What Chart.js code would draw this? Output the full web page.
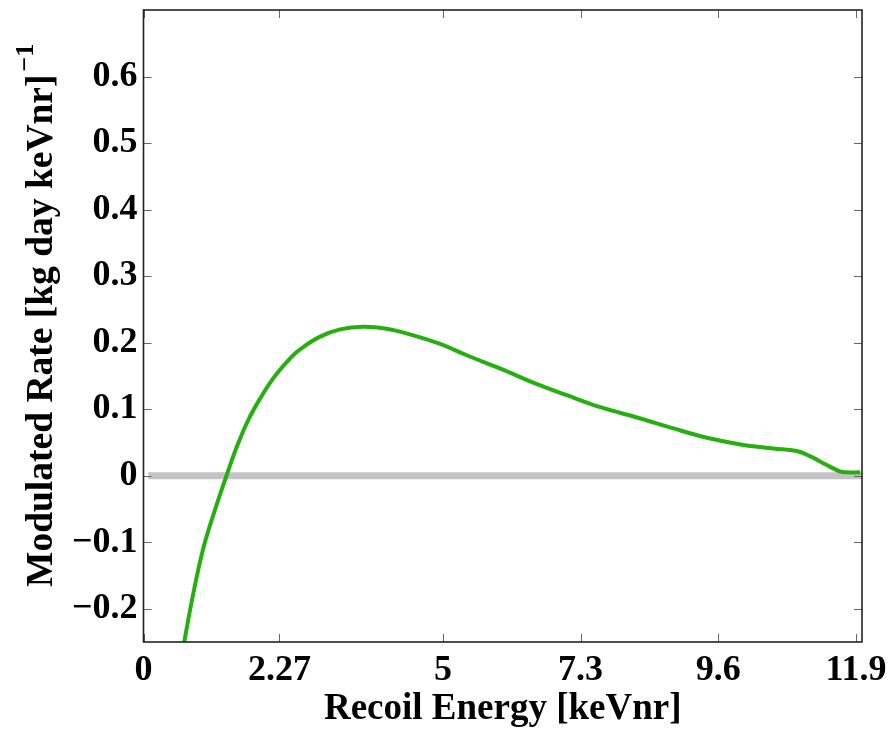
<!DOCTYPE html>
<html>
<head>
<meta charset="utf-8">
<script src="https://cdn.jsdelivr.net/npm/chart.js@4"></script>
<style>
html,body{margin:0;padding:0;background:#fff;}
canvas{display:block;}
</style>
</head>
<body>
<canvas id="c" width="894" height="729"></canvas>
<script>
// ---- data ----
const energy = [0.60, 0.682, 0.832, 0.999, 1.195, 1.39, 1.557, 1.751, 1.975, 2.197, 2.476, 2.615, 2.949, 3.283, 3.673, 4.063, 4.508, 4.954, 5.40, 5.96, 6.51, 7.07, 7.63, 8.30, 8.85, 9.41, 9.97, 10.52, 10.91, 11.14, 11.41, 11.64, 11.72, 11.97];
const modulatedRate = [-0.29, -0.249, -0.177, -0.109, -0.051, 0.001, 0.043, 0.084, 0.120, 0.150, 0.179, 0.190, 0.209, 0.220, 0.224, 0.221, 0.211, 0.198, 0.181, 0.161, 0.140, 0.121, 0.103, 0.086, 0.071, 0.057, 0.047, 0.041, 0.037, 0.029, 0.016, 0.006, 0.005, 0.005];
const zeroLineX = [0.08, 12];
const zeroLineY = [0, 0];
const xTicks = [0, 2.27, 5, 7.3, 9.6, 11.9];
const yTicks = [-0.2, -0.1, 0, 0.1, 0.2, 0.3, 0.4, 0.5, 0.6];
const xTitle = 'Recoil Energy [keVnr]';
const yTitle = 'Modulated Rate [kg day keVnr]';
const yTitleSup = '\u22121';

const FONT = '"Liberation Serif", "Times New Roman", serif';

function fmtY(v){
  if (Math.abs(v) < 1e-9) return '0';
  return (v < 0 ? '\u2212' : '') + Math.abs(v).toFixed(1);
}

const boxPlugin = {
  id: 'boxTicks',
  afterDatasetsDraw(chart){
    const {ctx, chartArea:{left,right,top,bottom}, scales:{x,y}} = chart;
    ctx.save();
    ctx.strokeStyle = '#666';
    ctx.lineWidth = 1;
    ctx.beginPath();
    const tl = 8;
    xTicks.forEach(v => {
      const px = Math.round(x.getPixelForValue(v)) + 0.5;
      ctx.moveTo(px, bottom); ctx.lineTo(px, bottom - tl);
      ctx.moveTo(px, top); ctx.lineTo(px, top + tl);
    });
    yTicks.forEach(v => {
      const py = Math.round(y.getPixelForValue(v)) + 0.5;
      ctx.moveTo(left, py); ctx.lineTo(left + tl, py);
      ctx.moveTo(right, py); ctx.lineTo(right - tl, py);
    });
    ctx.stroke();
    ctx.strokeStyle = '#222';
    ctx.lineWidth = 1.6;
    ctx.strokeRect(left, top, right - left, bottom - top);
    ctx.restore();
  },
  afterDraw(chart){
    const {ctx, chartArea:{bottom}} = chart;
    ctx.save();
    ctx.fillStyle = '#000';
    ctx.font = 'bold 37.5px ' + FONT;
    const w1 = ctx.measureText(yTitle).width;
    const startY = bottom - 55;
    ctx.translate(52, startY);
    ctx.rotate(-Math.PI / 2);
    ctx.textAlign = 'left';
    ctx.textBaseline = 'alphabetic';
    ctx.fillText(yTitle, 0, 0);
    ctx.font = 'bold 26px ' + FONT;
    ctx.fillText(yTitleSup, w1 + 3, -19);
    ctx.restore();
  }
};

new Chart(document.getElementById('c'), {
  type: 'scatter',
  data: {
    datasets: [
      {
        label: 'modulated rate',
        data: energy.map((e, i) => ({x: e, y: modulatedRate[i]})),
        showLine: true,
        borderColor: '#26b010',
        borderWidth: 4,
        pointRadius: 0,
        tension: 0.4,
        order: 1
      },
      {
        label: 'zero',
        data: zeroLineX.map((e, i) => ({x: e, y: zeroLineY[i]})),
        showLine: true,
        borderColor: '#c3c3c3',
        borderWidth: 7,
        pointRadius: 0,
        order: 2
      }
    ]
  },
  options: {
    responsive: false,
    animation: false,
    layout: {padding: {left: 0, right: 32, top: 10, bottom: 0}},
    plugins: {legend: {display: false}, tooltip: {enabled: false}},
    scales: {
      x: {
        type: 'linear',
        min: 0, max: 12,
        afterBuildTicks: s => { s.ticks = xTicks.map(v => ({value: v})); },
        afterFit: s => { s.height = 87; s.paddingLeft = 0; s.paddingRight = 0; s.paddingTop = 0; s.paddingBottom = 0; },
        grid: {display: false, drawTicks: false},
        border: {display: false},
        ticks: {
          autoSkip: false, maxRotation: 0,
          color: '#000',
          padding: 7,
          font: {family: FONT, size: 36, weight: 'bold'},
          callback: v => String(v)
        },
        title: {
          display: true, text: xTitle, color: '#000',
          font: {family: FONT, size: 37, weight: 'bold'},
          padding: {top: 0, bottom: -3}
        }
      },
      y: {
        type: 'linear',
        min: -0.25, max: 0.7,
        afterBuildTicks: s => { s.ticks = yTicks.map(v => ({value: v})); },
        afterFit: s => { s.width = 143.5; s.paddingLeft = 0; s.paddingRight = 0; s.paddingTop = 0; s.paddingBottom = 0; },
        grid: {display: false, drawTicks: false},
        border: {display: false},
        ticks: {
          autoSkip: false,
          color: '#000',
          padding: 6,
          font: {family: FONT, size: 36, weight: 'bold'},
          callback: v => fmtY(v)
        }
      }
    }
  },
  plugins: [boxPlugin]
});
</script>
</body>
</html>
